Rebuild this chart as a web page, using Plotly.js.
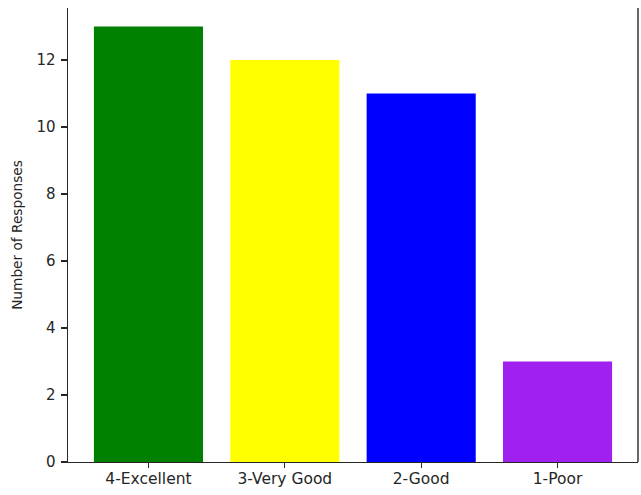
<!DOCTYPE html>
<html>
<head>
<meta charset="utf-8">
<script src="https://cdn.plot.ly/plotly-3.0.1.min.js"></script>
<style>html,body{margin:0;padding:0;background:#fff;}#chart{width:641px;height:495px;}</style>
</head>
<body>
<div id="chart"></div>
<script>
const categories = ["4-Excellent", "3-Very Good", "2-Good", "1-Poor"];
const responses = [13, 12, 11, 3];
const barColors = ["#008000", "#ffff00", "#0000ff", "#a020f0"];
const yTicks = [0, 2, 4, 6, 8, 10, 12];
const yTitle = "Number of Responses";

const font = "DejaVu Sans, sans-serif";
Plotly.newPlot("chart", [{
  type: "bar",
  x: categories,
  y: responses,
  marker: {color: barColors, line: {width: 0}},
  width: 0.8,
  hoverinfo: "x+y"
}], {
  width: 641, height: 495,
  margin: {l: 68, r: 3, t: 8, b: 33, pad: 0},
  paper_bgcolor: "#fff", plot_bgcolor: "#fff",
  showlegend: false,
  font: {family: font, color: "#262626"},
  xaxis: {
    type: "category",
    range: [-0.59, 3.59],
    showgrid: false, zeroline: false,
    showline: true, linecolor: "#262626", linewidth: 1.4,
    ticks: "outside", ticklen: 5, tickwidth: 1.2, tickcolor: "#262626",
    ticklabelstandoff: -3,
    tickfont: {size: 15.5, family: font, color: "#262626"}
  },
  yaxis: {
    range: [0, 13.55],
    tickvals: yTicks,
    showgrid: false, zeroline: false,
    showline: true, linecolor: "#262626", linewidth: 1.4,
    ticks: "outside", ticklen: 6, tickwidth: 1.2, tickcolor: "#262626",
    ticklabelstandoff: 2,
    tickfont: {size: 15, family: font, color: "#262626"},
    title: {text: yTitle, font: {size: 13.7, family: font, color: "#262626"}, standoff: 10}
  },
  shapes: [{type: "line", xref: "paper", yref: "paper", x0: 1, x1: 1, y0: 0, y1: 1,
            line: {color: "#262626", width: 1.4}}]
}, {displayModeBar: false, staticPlot: true});
</script>
</body>
</html>
